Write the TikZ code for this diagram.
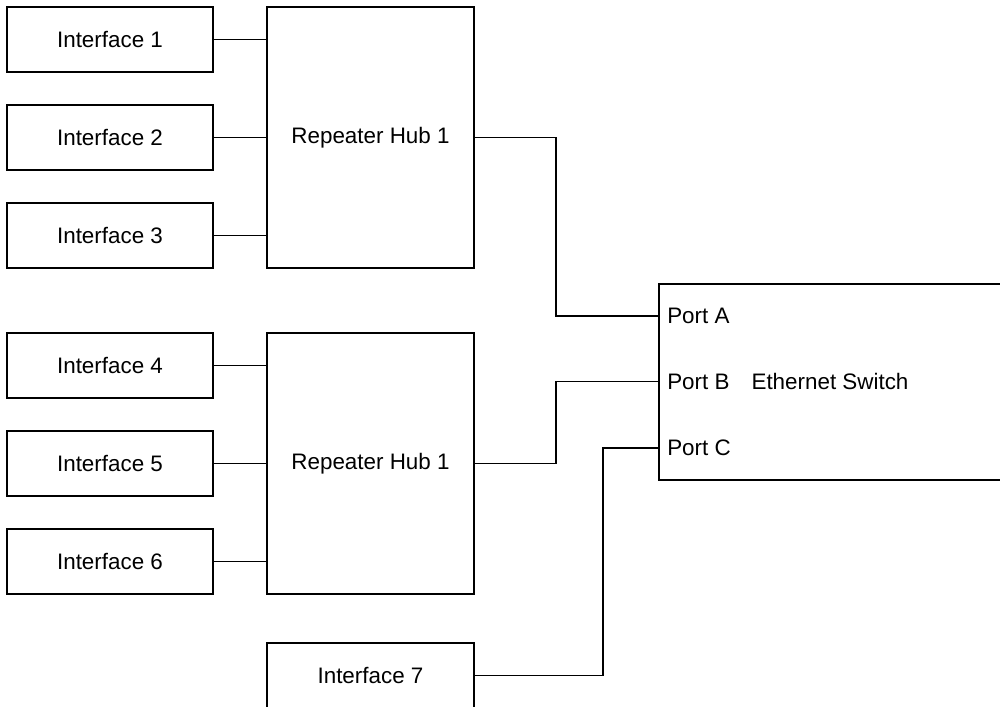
\documentclass[tikz,border=0pt]{standalone}
\usepackage{fontspec}
\setmainfont{Liberation Sans}
\begin{document}
\begin{tikzpicture}[x=0.75pt,y=0.75pt,yscale=-1,xscale=1,
  every node/.style={font=\fontsize{16.8}{20}\selectfont},
  ifbox/.style={draw,line width=0.8pt,inner sep=0pt,outer sep=0pt,minimum width=154.5pt,minimum height=48.75pt},
  hubbox/.style={draw,line width=0.8pt,inner sep=0pt,outer sep=0pt,minimum width=155.25pt,minimum height=195.75pt},
  link/.style={line width=0.8pt}]
%set diagram area to 1000 x 707
\clip (0,0) rectangle (1000,707);
\useasboundingbox (0,0) rectangle (1000,707);

%Shape: Rectangle [interfaces]
\node[ifbox] (if1) at (110,39.5) {Interface 1};
\node[ifbox] (if2) at (110,137.5) {Interface 2};
\node[ifbox] (if3) at (110,235.5) {Interface 3};
\node[ifbox] (if4) at (110,365.5) {Interface 4};
\node[ifbox] (if5) at (110,463.5) {Interface 5};
\node[ifbox] (if6) at (110,561.5) {Interface 6};
\node[ifbox,minimum width=155.25pt] (if7) at (370.5,675.5) {Interface 7};

%Shape: Rectangle [hubs]
\node[hubbox] (hub1) at (370.5,137.5) {Repeater Hub 1};
\node[hubbox] (hub2) at (370.5,463.5) {Repeater Hub 1};

%Shape: Rectangle [switch]
\node[draw,line width=0.8pt,inner sep=0pt,outer sep=0pt,minimum width=273.75pt,minimum height=147pt] (switch) at (841.5,382) {};
% Text Node
\node (swlabel) at (830,381) {Ethernet Switch};
% Text Node
\node[anchor=west,inner sep=0pt] (portA) at (667,316) {Port A};
\node[anchor=west,inner sep=0pt] (portB) at (667,381.5) {Port B};
\node[anchor=west,inner sep=0pt] (portC) at (667,448) {Port C};

%Straight Lines [interface to hub]
\draw[link] (if1.east) -- (hub1.west |- if1);
\draw[link] (if2.east) -- (hub1.west |- if2);
\draw[link] (if3.east) -- (hub1.west |- if3);
\draw[link] (if4.east) -- (hub2.west |- if4);
\draw[link] (if5.east) -- (hub2.west |- if5);
\draw[link] (if6.east) -- (hub2.west |- if6);

%Straight Lines [hub to switch]
\coordinate (bendA) at (556,137.5);
\coordinate (bendB) at (556,463.5);
\coordinate (bendC) at (603,675.5);
\draw[link] (hub1.east) -- (bendA) |- (switch.west |- portA);
\draw[link] (hub2.east) -- (bendB) |- (switch.west |- portB);
\draw[link] (if7.east) -- (bendC) |- (switch.west |- portC);

\end{tikzpicture}
\end{document}
